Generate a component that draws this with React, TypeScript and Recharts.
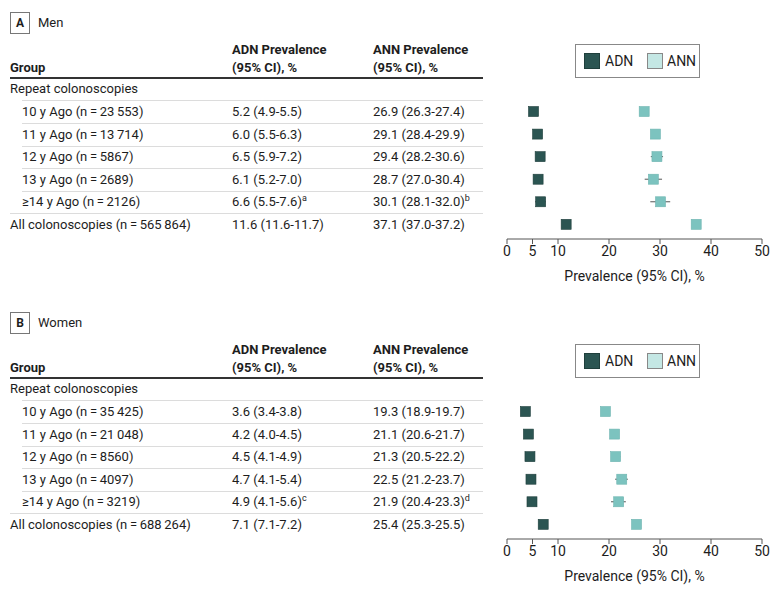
import React from 'react'
import { ScatterChart, Scatter, XAxis, YAxis } from 'recharts'

const groups = ['10 y Ago', '11 y Ago', '12 y Ago', '13 y Ago', '≥14 y Ago', 'All colonoscopies']
const xTicks = [0, 5, 10, 20, 30, 40, 50]

// Men
const menN = [23553, 13714, 5867, 2689, 2126, 565864]
const menAdn = [5.2, 6.0, 6.5, 6.1, 6.6, 11.6]
const menAdnLo = [4.9, 5.5, 5.9, 5.2, 5.5, 11.6]
const menAdnHi = [5.5, 6.3, 7.2, 7.0, 7.6, 11.7]
const menAnn = [26.9, 29.1, 29.4, 28.7, 30.1, 37.1]
const menAnnLo = [26.3, 28.4, 28.2, 27.0, 28.1, 37.0]
const menAnnHi = [27.4, 29.9, 30.6, 30.4, 32.0, 37.2]
const menAdnNote = ['', '', '', '', 'a', '']
const menAnnNote = ['', '', '', '', 'b', '']

// Women
const womenN = [35425, 21048, 8560, 4097, 3219, 688264]
const womenAdn = [3.6, 4.2, 4.5, 4.7, 4.9, 7.1]
const womenAdnLo = [3.4, 4.0, 4.1, 4.1, 4.1, 7.1]
const womenAdnHi = [3.8, 4.5, 4.9, 5.4, 5.6, 7.2]
const womenAnn = [19.3, 21.1, 21.3, 22.5, 21.9, 25.4]
const womenAnnLo = [18.9, 20.6, 20.5, 21.2, 20.4, 25.3]
const womenAnnHi = [19.7, 21.7, 22.2, 23.7, 23.3, 25.5]
const womenAdnNote = ['', '', '', '', 'c', '']
const womenAnnNote = ['', '', '', '', 'd', '']

const DARK = '#2b5552'
const LIGHT = '#7cc3bf'
const TEXT = '#1d1d1d'
const FONT = 'Roboto, sans-serif'

const fmtN = (n: number) => {
  if (n < 10000) return String(n)
  const s = String(n)
  return s.slice(0, s.length - 3) + '\u2009' + s.slice(-3)
}
const fmtCI = (v: number, lo: number, hi: number) =>
  `${v.toFixed(1)} (${lo.toFixed(1)}-${hi.toFixed(1)})`

interface PanelProps {
  top: number
  letter: string
  title: string
  n: number[]
  adn: number[]
  adnLo: number[]
  adnHi: number[]
  ann: number[]
  annLo: number[]
  annHi: number[]
  adnNote: string[]
  annNote: string[]
}

// eslint-disable-next-line @typescript-eslint/no-explicit-any
const square = (color: string, border: string) => (props: any) => (
  <rect x={props.cx - 5} y={props.cy - 5} width={10} height={10} fill={color} stroke={border} strokeWidth={0.6} />
)
const noShape = () => <g />

const CHART_W = 290
const CHART_H = 200
const X_AXIS_H = 51
const Y_DOMAIN: [number, number] = [-0.6, 5.65]

function Panel(p: PanelProps) {
  const rowY = (i: number) => p.top + 112 + i * 22.5
  const adnData = p.adn.map((v, i) => ({ x: v, y: i }))
  const annData = p.ann.map((v, i) => ({ x: v, y: i }))
  // one two-point segment per CI
  const whiskers = [
    ...p.adn.map((_, i) => [{ x: p.adnLo[i], y: i }, { x: p.adnHi[i], y: i }]),
    ...p.ann.map((_, i) => [{ x: p.annLo[i], y: i }, { x: p.annHi[i], y: i }]),
  ]

  const cell = (left: number, y: number, content: React.ReactNode, bold = false) => (
    <div
      style={{
        position: 'absolute',
        left,
        top: y - 11,
        height: 22,
        lineHeight: '22px',
        whiteSpace: 'nowrap',
        fontWeight: bold ? 700 : 400,
      }}
    >
      {content}
    </div>
  )
  const rule = (left: number, y: number, color = '#dcdcdc', h = 1) => (
    <div style={{ position: 'absolute', left, top: y, width: 483 - left, height: h, background: color }} />
  )
  const sup = (s: string) => (s ? <sup style={{ fontSize: 9, lineHeight: 0 }}>{s}</sup> : null)

  return (
    <>
      <div
        style={{
          position: 'absolute',
          left: 10,
          top: p.top + 12,
          width: 18,
          height: 20,
          border: '1px solid #777',
          textAlign: 'center',
          lineHeight: '20px',
          fontWeight: 700,
          fontSize: 12,
        }}
      >
        {p.letter}
      </div>
      {cell(38, p.top + 23, p.title)}
      {cell(232, p.top + 50, 'ADN Prevalence', true)}
      {cell(232, p.top + 68, '(95% CI), %', true)}
      {cell(373, p.top + 50, 'ANN Prevalence', true)}
      {cell(373, p.top + 68, '(95% CI), %', true)}
      {cell(10, p.top + 68, 'Group', true)}
      {rule(10, p.top + 77, '#333', 2)}
      {cell(10, p.top + 89, 'Repeat colonoscopies')}
      {rule(22, p.top + 100)}
      {groups.map((g, i) => (
        <React.Fragment key={g}>
          {cell(i === 5 ? 10 : 22, rowY(i), `${g} (n\u2009=\u2009${fmtN(p.n[i])})`)}
          {cell(232, rowY(i), <>{fmtCI(p.adn[i], p.adnLo[i], p.adnHi[i])}{sup(p.adnNote[i])}</>)}
          {cell(373, rowY(i), <>{fmtCI(p.ann[i], p.annLo[i], p.annHi[i])}{sup(p.annNote[i])}</>)}
          {i < 5 && rule(i === 4 ? 10 : 22, rowY(i) + 11)}
        </React.Fragment>
      ))}

      {/* legend */}
      <div
        style={{
          position: 'absolute',
          left: 575,
          top: p.top + 44,
          width: 125,
          height: 34,
          border: '1px solid #888',
          boxSizing: 'border-box',
          fontSize: 14,
        }}
      >
        <div style={{ position: 'absolute', left: 8, top: 8, width: 16, height: 16, background: DARK, border: '1px solid #1f3f3c', boxSizing: 'border-box' }} />
        <div style={{ position: 'absolute', left: 29, top: 0, lineHeight: '32px' }}>ADN</div>
        <div style={{ position: 'absolute', left: 71, top: 8, width: 16, height: 16, background: '#c4e7e4', border: '1px solid #888', boxSizing: 'border-box' }} />
        <div style={{ position: 'absolute', left: 91, top: 0, lineHeight: '32px' }}>ANN</div>
      </div>

      {/* bottom layer: axis + CI whiskers */}
      <div style={{ position: 'absolute', left: 490, top: p.top + 90 }}>
        <ScatterChart width={CHART_W} height={CHART_H} margin={{ top: 8, right: 18, bottom: 0, left: 17 }}>
          <XAxis
            type="number"
            dataKey="x"
            domain={[0, 50]}
            ticks={xTicks}
            interval={0}
            height={X_AXIS_H}
            tickSize={5}
            stroke="#555"
            tick={{ fill: TEXT, fontSize: 14, fontFamily: FONT }}
            label={{ value: 'Prevalence (95% CI), %', position: 'insideBottom', offset: 9, fill: TEXT, fontSize: 14, fontFamily: FONT }}
          />
          <YAxis type="number" dataKey="y" domain={Y_DOMAIN} reversed hide />
          {whiskers.map((seg, k) => (
            <Scatter
              key={`w-${k}`}
              data={seg}
              isAnimationActive={false}
              shape={noShape}
              line={{ stroke: '#555', strokeWidth: 1 }}
            />
          ))}
        </ScatterChart>
      </div>

      {/* top layer: point estimates, same scales */}
      <div style={{ position: 'absolute', left: 490, top: p.top + 90 }}>
        <ScatterChart width={CHART_W} height={CHART_H} margin={{ top: 8, right: 18, bottom: X_AXIS_H, left: 17 }}>
          <XAxis type="number" dataKey="x" domain={[0, 50]} hide />
          <YAxis type="number" dataKey="y" domain={Y_DOMAIN} reversed hide />
          <Scatter data={adnData} isAnimationActive={false} shape={square(DARK, '#1f3f3c')} />
          <Scatter data={annData} isAnimationActive={false} shape={square(LIGHT, '#6fb5b1')} />
        </ScatterChart>
      </div>
    </>
  )
}

export default function App() {
  return (
    <div
      style={{
        position: 'absolute',
        left: 0,
        top: 0,
        width: 780,
        height: 593,
        background: '#fff',
        fontFamily: FONT,
        fontSize: 13,
        color: TEXT,
      }}
    >
      <Panel
        top={0}
        letter="A"
        title="Men"
        n={menN}
        adn={menAdn}
        adnLo={menAdnLo}
        adnHi={menAdnHi}
        ann={menAnn}
        annLo={menAnnLo}
        annHi={menAnnHi}
        adnNote={menAdnNote}
        annNote={menAnnNote}
      />
      <Panel
        top={300}
        letter="B"
        title="Women"
        n={womenN}
        adn={womenAdn}
        adnLo={womenAdnLo}
        adnHi={womenAdnHi}
        ann={womenAnn}
        annLo={womenAnnLo}
        annHi={womenAnnHi}
        adnNote={womenAdnNote}
        annNote={womenAnnNote}
      />
    </div>
  )
}
